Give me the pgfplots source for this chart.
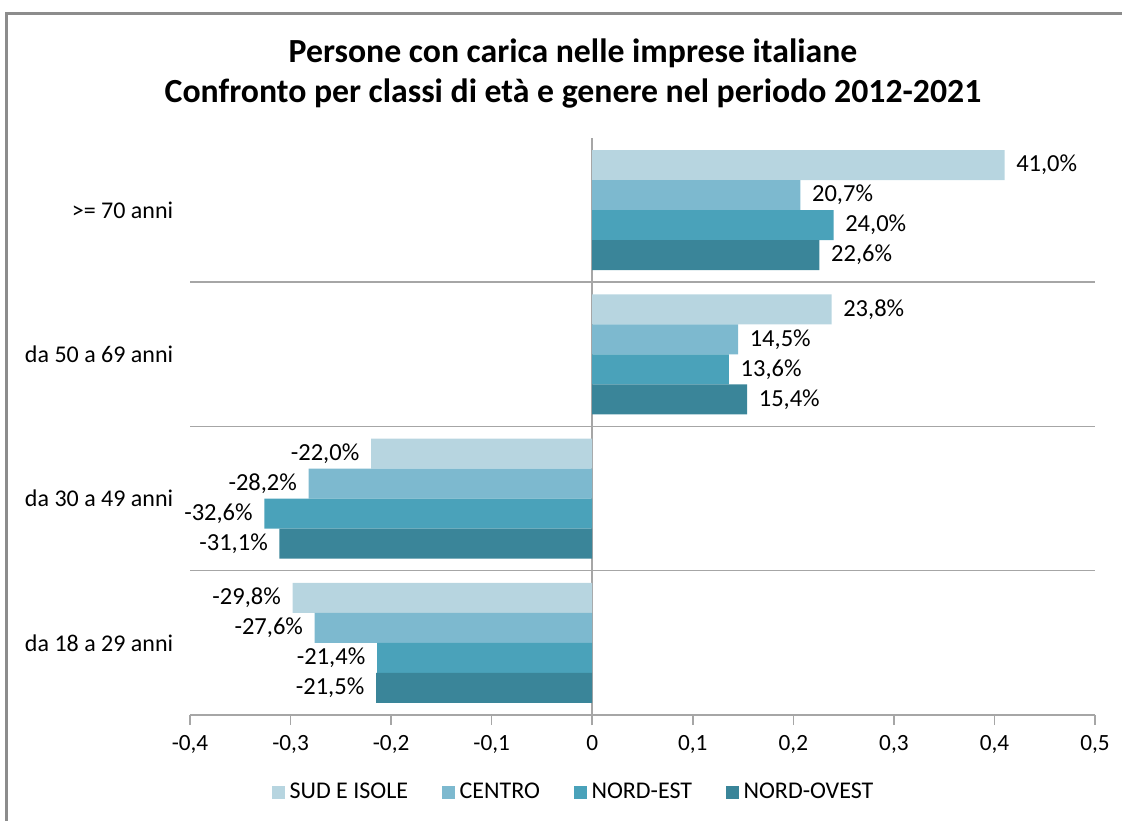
\documentclass[border=0pt]{standalone}
\usepackage{pgfplots}
\pgfplotsset{compat=1.18}
\usepackage{fontspec}
\setmainfont{Carlito}

\definecolor{sud}{HTML}{B7D5E0}
\definecolor{centro}{HTML}{7DB9CF}
\definecolor{nordest}{HTML}{4AA2BA}
\definecolor{nordovest}{HTML}{3A8599}
\definecolor{gridgray}{HTML}{A6A6A6}
\definecolor{framegray}{HTML}{8C8C8C}

% bar thickness and offsets in axis units (1 unit = one age class)
\def\bw{0.208}

\begin{document}
\begin{tikzpicture}
\useasboundingbox (-76pt,-42.4pt) rectangle (372.8pt,286pt);
\draw[framegray, line width=1.2pt] (-73.4pt,-60pt) -- (-73.4pt,280.6pt) -- (390pt,280.6pt);

\node[align=center, font=\bfseries\fontsize{13.5}{16.2}\selectfont] at (153.2pt,256.6pt)
  {Persone con carica nelle imprese italiane\\Confronto per classi di età e genere nel periodo 2012-2021};

\begin{axis}[
  at={(0pt,0pt)}, anchor=south west,
  xbar,
  scale only axis,
  width=362pt, height=230.8pt,
  xmin=-0.4, xmax=0.5,
  ymin=-0.5, ymax=3.5,
  xtick={-0.4,-0.3,...,0.5},
  ytick={0,1,2,3},
  yticklabels={da 18 a 29 anni, da 30 a 49 anni, da 50 a 69 anni, >= 70 anni},
  bar width=\bw,
  axis x line*=bottom,
  axis y line*=left,
  y axis line style={draw=none},
  x axis line style={gridgray, line width=0.6pt},
  ytick style={draw=none},
  xtick style={gridgray, line width=0.6pt},
  tick align=outside,
  major tick length=4pt,
  /pgf/number format/.cd, use comma, fixed, assume math mode=true,
  /pgfplots/.cd,
  xticklabel style={font=\fontsize{9.3}{10}\selectfont, yshift=-0.5pt},
  yticklabel style={font=\fontsize{9.6}{10}\selectfont, xshift=0.8pt},
  extra y ticks={0.5,1.5,2.5},
  extra y tick labels={},
  extra y tick style={grid=major, major grid style={gridgray, line width=0.6pt}, major tick length=0pt},
  extra x ticks={0},
  extra x tick labels={},
  extra x tick style={grid=major, major grid style={gridgray, line width=0.6pt}},
  point meta={x*100},
  nodes near coords={\pgfmathprintnumber[fixed, fixed zerofill, precision=1, use comma]{\pgfplotspointmeta}\%},
  nodes near coords align={horizontal},
  every node near coord/.append style={font=\fontsize{9.8}{10}\selectfont, text=black, inner sep=4.5pt},
  legend style={at={(0.4254,-0.135)}, anchor=center, draw=none, legend columns=4,
    font=\fontsize{9.6}{10}\selectfont, nodes={inner sep=2pt},
    /tikz/every even column/.append style={column sep=11.4pt}},
  legend image code/.code={\fill[#1, draw=none] (0pt,-2.6pt) rectangle (5.2pt,2.6pt);},
  clip=false,
]
\addplot[fill=sud, draw=none, bar shift={1.5*\bw}]
  coordinates {(0.410,3) (0.238,2) (-0.220,1) (-0.298,0)};
\addlegendentry{SUD E ISOLE}
\addplot[fill=centro, draw=none, bar shift={0.5*\bw}]
  coordinates {(0.207,3) (0.145,2) (-0.282,1) (-0.276,0)};
\addlegendentry{CENTRO}
\addplot[fill=nordest, draw=none, bar shift={-0.5*\bw}]
  coordinates {(0.240,3) (0.136,2) (-0.326,1) (-0.214,0)};
\addlegendentry{NORD-EST}
\addplot[fill=nordovest, draw=none, bar shift={-1.5*\bw}]
  coordinates {(0.226,3) (0.154,2) (-0.311,1) (-0.215,0)};
\addlegendentry{NORD-OVEST}
\end{axis}
\end{tikzpicture}
\end{document}
